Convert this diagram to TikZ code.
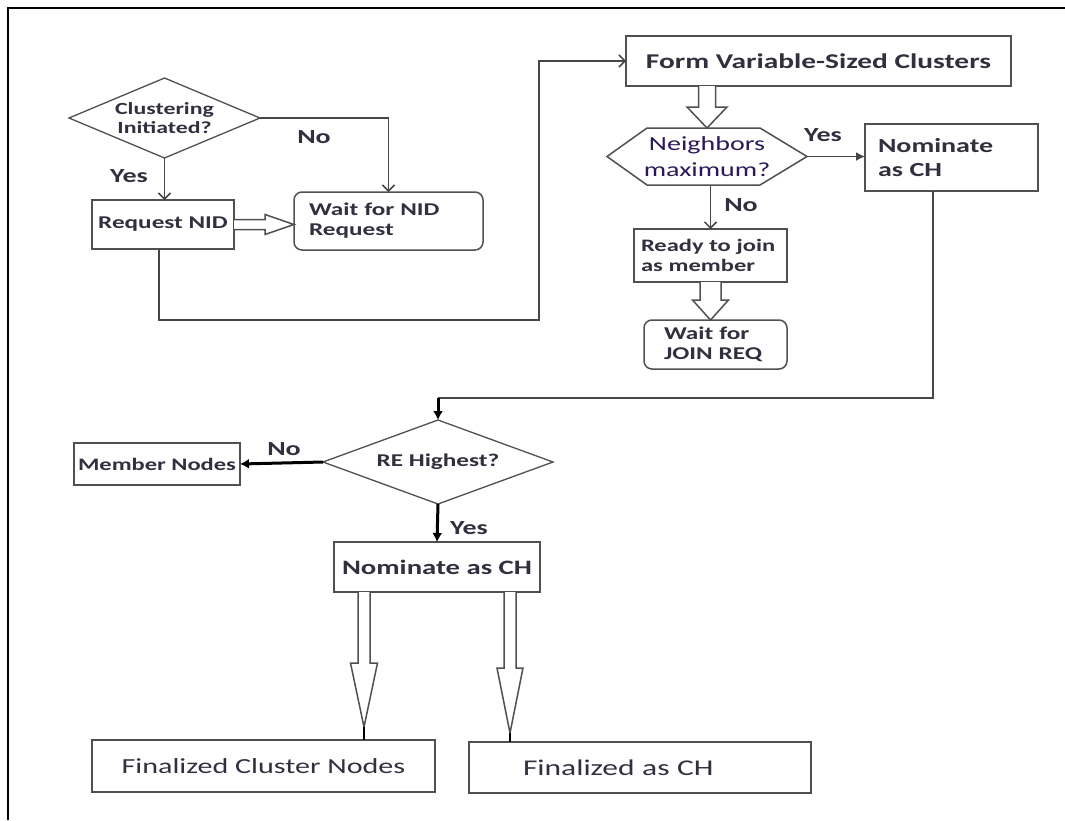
\documentclass[tikz,border=0pt]{standalone}
\usepackage{fontspec}
\setmainfont{Carlito}[FakeStretch=1.4]
\usetikzlibrary{arrows.meta,calc,shapes.geometric}
\definecolor{textcol}{RGB}{50,48,62}
\definecolor{nbrcol}{RGB}{42,24,88}
\definecolor{boxcol}{RGB}{80,80,80}
\definecolor{linecol}{RGB}{70,70,70}
\begin{document}
\begin{tikzpicture}[x=1pt,y=-1pt,
  box/.style={draw=boxcol,line width=1.5pt,rectangle,inner sep=0pt,outer sep=0pt,text=textcol},
  rbox/.style={box,rounded corners=8pt},
  dia/.style={draw=boxcol,line width=1.3pt,diamond,inner sep=0pt,outer sep=0pt,text=textcol},
  conn/.style={draw=linecol,line width=1.5pt},
  vtip/.style={conn,-{Straight Barb[length=6pt,width=12pt]}},
  ftip/.style={conn,-{Latex[length=9pt,width=9pt]}},
  boldarr/.style={draw=black,line width=3pt,-{Latex[length=9pt,width=10pt]}},
  hollow/.style={draw=boxcol,line width=1.5pt,fill=white,line join=miter},
  stub/.style={draw=black,line width=2.5pt},
  lbl/.style={text=textcol,font=\fontsize{20}{22}\selectfont\bfseries,inner sep=0pt},
]
\useasboundingbox (0,0) rectangle (1065,820);
\fill[white] (0,0) rectangle (1065,820);
\draw[line width=2.2pt,black] (8,820) -- (8,8) -- (1065,8);

% nodes
\node[dia,minimum width=191pt,minimum height=80pt,shape aspect=2.4,align=center,
      font=\fontsize{17}{19}\selectfont\bfseries] (clus) at (164.5,118) {Clustering\\Initiated?};
\node[box,minimum width=142pt,minimum height=49pt,font=\fontsize{18}{20}\selectfont\bfseries]
      (req) at (163,224.5) {Request NID};
\node[rbox,minimum width=189pt,minimum height=58pt,text width=159pt,inner xsep=15pt,align=left,
      font=\fontsize{18}{20}\selectfont\bfseries] (waitnid) at (388.5,221) {Wait for NID\\Request};
\node[box,minimum width=385pt,minimum height=50pt,font=\fontsize{21}{24}\selectfont\bfseries]
      (form) at (818.5,61) {Form Variable-Sized Clusters};
\node[inner sep=0pt,outer sep=0pt,minimum width=200pt,minimum height=57pt,text=nbrcol,align=center,
      font=\fontsize{20}{26}\selectfont] (nbr) at (707,156.5) {Neighbors\\maximum?};
\draw[draw=boxcol,line width=1.5pt] (nbr.west) -- ($(nbr.north west)+(40,0)$) -- ($(nbr.north east)+(-47,0)$)
      -- (nbr.east) -- ($(nbr.south east)+(-47,0)$) -- ($(nbr.south west)+(40,0)$) -- cycle;
\node[box,minimum width=173pt,minimum height=67pt,text width=147pt,inner xsep=13pt,align=left,
      font=\fontsize{20}{24}\selectfont\bfseries] (nom1) at (951.5,157.5) {Nominate\\as CH};
\node[box,minimum width=153pt,minimum height=53pt,text width=139pt,inner xsep=7pt,align=left,
      font=\fontsize{17.5}{20}\selectfont\bfseries] (ready) at (710.5,255.5) {Ready to join\\as member};
\node[rbox,minimum width=143pt,minimum height=49pt,text width=103pt,inner xsep=20pt,align=left,
      font=\fontsize{18}{20}\selectfont\bfseries] (waitjoin) at (715.5,344.5) {Wait for\\JOIN REQ};
\node[dia,minimum width=230pt,minimum height=84pt,shape aspect=2.74,
      font=\fontsize{18}{20}\selectfont\bfseries] (re) at (438,462) {RE Highest?};
\node[box,minimum width=166pt,minimum height=42pt,font=\fontsize{17.5}{20}\selectfont\bfseries]
      (member) at (157,464) {Member Nodes};
\node[box,minimum width=206pt,minimum height=50pt,font=\fontsize{20.5}{24}\selectfont\bfseries]
      (nom2) at (437,567) {Nominate as CH};
\node[box,minimum width=343pt,minimum height=52pt,font=\fontsize{21.5}{24}\selectfont]
      (fin1) at (263.5,766) {Finalized Cluster Nodes};
\node[box,minimum width=342pt,minimum height=51pt,text width=234pt,inner xsep=54pt,align=left,
      font=\fontsize{22.5}{24}\selectfont] (fin2) at (640,767.5) {Finalized as CH};

% labels
\node[lbl] (n1) at (314,137) {No};
\node[lbl] (y1) at (129,176) {Yes};
\node[lbl] (y2) at (823,135) {Yes};
\node[lbl] (n2) at (741,205) {No};
\node[lbl] (n3) at (284,449) {No};
\node[lbl] (y3) at (469,528) {Yes};

% connectors
\coordinate (lp) at (539,320);
\path (re.north) ++(0,-22) coordinate (rc);
\draw[vtip] (clus.south) -- (clus.south |- req.north);
\draw[vtip] (clus.east) -| (waitnid.north);
\draw[vtip] ([xshift=-4pt]req.south) |- (lp) |- (form.west);
\draw[ftip] (nbr.east) -- (nbr.east -| nom1.west);
\draw[vtip] (ready.north |- nbr.south) -- (ready.north);
\draw[conn] ([xshift=-18.5pt]nom1.south) |- (rc);
\draw[boldarr] (rc) -- (re.north);
\draw[boldarr] (re.west) -- (member.east);
\draw[boldarr] (re.south) -- (nom2.north);

% hollow block arrows
\draw[hollow] let \p1=(req.east), \p2=(waitnid.west) in
  (\x1,\y1+5pt) -- (\x2-29pt,\y1+5pt) -- (\x2-29pt,\y1+10pt) -- (\x2,\y1)
  -- (\x2-29pt,\y1-10pt) -- (\x2-29pt,\y1-5pt) -- (\x1,\y1-5pt);
\draw[hollow] let \p1=(nbr.north), \p2=(form.south) in
  (\x1-8.5pt,\y2) -- (\x1-8.5pt,\y1+21pt) -- (\x1-20pt,\y1+21pt) -- (\x1,\y1)
  -- (\x1+20pt,\y1+21pt) -- (\x1+8.5pt,\y1+21pt) -- (\x1+8.5pt,\y2);
\draw[hollow] let \p1=(waitjoin.north), \p2=(ready.south) in
  (\x2-10.5pt,\y2) -- (\x2-10.5pt,\y1+20pt) -- (\x2-18pt,\y1+20pt) -- (\x2,\y1)
  -- (\x2+18pt,\y1+20pt) -- (\x2+10.5pt,\y1+20pt) -- (\x2+10.5pt,\y2);
\draw[hollow] let \p1=($(nom2.south)+(-73,0)$), \p2=(fin1.north) in
  (\x1-6pt,\y1) -- (\x1-6pt,\y2+77pt) -- (\x1-13.5pt,\y2+77pt) -- (\x1,\y2+13pt)
  -- (\x1+13.5pt,\y2+77pt) -- (\x1+6pt,\y2+77pt) -- (\x1+6pt,\y1);
\draw[stub] let \p1=($(nom2.south)+(-73,0)$), \p2=(fin1.north) in (\x1,\y2+13pt) -- (\x1,\y2);
\draw[hollow] let \p1=($(nom2.south)+(73,0)$), \p2=(fin2.north) in
  (\x1-6pt,\y1) -- (\x1-6pt,\y2+74pt) -- (\x1-13pt,\y2+74pt) -- (\x1,\y2+9pt)
  -- (\x1+13pt,\y2+74pt) -- (\x1+6pt,\y2+74pt) -- (\x1+6pt,\y1);
\draw[stub] let \p1=($(nom2.south)+(73,0)$), \p2=(fin2.north) in (\x1,\y2+9pt) -- (\x1,\y2);
\end{tikzpicture}
\end{document}
